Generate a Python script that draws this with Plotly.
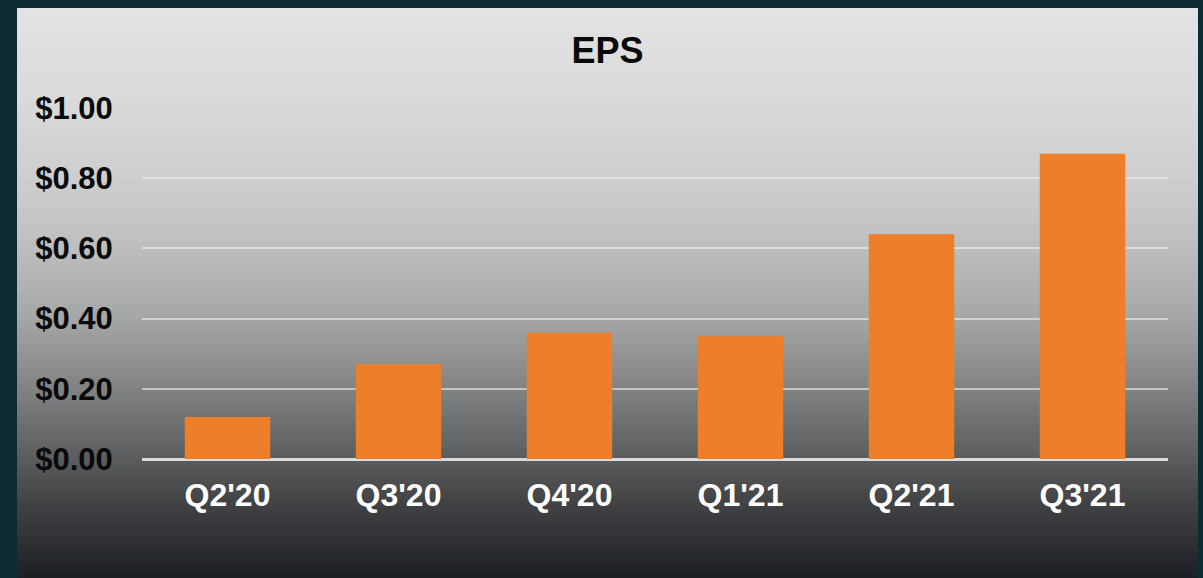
import plotly.graph_objects as go

# ---- data ----
quarters = ["Q2'20", "Q3'20", "Q4'20", "Q1'21", "Q2'21", "Q3'21"]
eps = [0.12, 0.27, 0.36, 0.35, 0.64, 0.87]
y_ticks = [0.0, 0.2, 0.4, 0.6, 0.8, 1.0]
y_tick_labels = ["$0.00", "$0.20", "$0.40", "$0.60", "$0.80", "$1.00"]
title_text = "EPS"

# ---- layout geometry (pixels) ----
W, H = 1203, 578
ML, MR, MT, MB = 142, 35, 108, 119
PW = W - ML - MR
PH = H - MT - MB
panel = dict(x0=17, x1=1198, y0=8, y1=578)

def px_x(px):
    return (px - ML) / PW

def px_y(py):
    return (H - MB - py) / PH

# background gradient stops (pixel y, rgb)
stops = [
    (8, (227, 227, 227)),
    (100, (218, 218, 218)),
    (200, (202, 202, 202)),
    (260, (186, 186, 186)),
    (320, (164, 165, 165)),
    (370, (140, 140, 140)),
    (420, (112, 113, 114)),
    (460, (90, 91, 92)),
    (500, (67, 68, 70)),
    (540, (47, 49, 53)),
    (578, (27, 30, 35)),
]

def color_at(py):
    for (ya, ca), (yb, cb) in zip(stops[:-1], stops[1:]):
        if ya <= py <= yb:
            t = (py - ya) / (yb - ya)
            c = [round(a + (b - a) * t) for a, b in zip(ca, cb)]
            return "rgb(%d,%d,%d)" % tuple(c)
    c = stops[-1][1]
    return "rgb(%d,%d,%d)" % c

shapes = []
step = 3
py = panel["y0"]
while py < panel["y1"]:
    top = py
    bot = min(py + step, panel["y1"])
    shapes.append(dict(
        type="rect", xref="paper", yref="paper", layer="below",
        x0=px_x(panel["x0"]), x1=px_x(panel["x1"]),
        y0=px_y(bot + 0.5), y1=px_y(top),
        fillcolor=color_at((top + bot) / 2), line=dict(width=0),
    ))
    py += step

FONT = "Liberation Sans, Arial, sans-serif"

fig = go.Figure()
fig.add_trace(go.Bar(
    x=quarters, y=eps,
    marker=dict(color="#ef7e2a", line=dict(width=0)),
    hoverinfo="x+y",
))

fig.update_layout(
    width=W, height=H,
    margin=dict(l=ML, r=MR, t=MT, b=MB, pad=0),
    paper_bgcolor="#0e2a32",
    plot_bgcolor="rgba(0,0,0,0)",
    bargap=0.5,
    showlegend=False,
    shapes=shapes,
    title=dict(
        text=title_text, xref="container", yref="container",
        x=(panel["x0"] + panel["x1"]) / 2 / W, xanchor="center",
        y=1 - 50 / H, yanchor="middle",
        font=dict(family=FONT, size=36, color="#0a0a0a", weight="bold"),
    ),
    xaxis=dict(
        type="category",
        showgrid=False, zeroline=False, showline=False,
        ticks="outside", ticklen=8, tickcolor="rgba(0,0,0,0)",
        tickfont=dict(family=FONT, size=32, color="#ffffff", weight="bold"),
    ),
    yaxis=dict(
        range=[0, 1.0],
        tickvals=y_ticks, ticktext=y_tick_labels,
        showgrid=True, gridcolor="rgba(240,240,240,0.6)", gridwidth=2,
        zeroline=True, zerolinecolor="#dadada", zerolinewidth=2.5,
        showline=False,
        ticks="outside", ticklen=22, tickcolor="rgba(0,0,0,0)",
        tickfont=dict(family=FONT, size=31, color="#0a0a0a", weight="bold"),
    ),
)

fig.write_html(
    "out.html",
    config={"displayModeBar": False},
    post_script="document.body.style.margin='0';document.body.style.background='#0e2a32';",
)
